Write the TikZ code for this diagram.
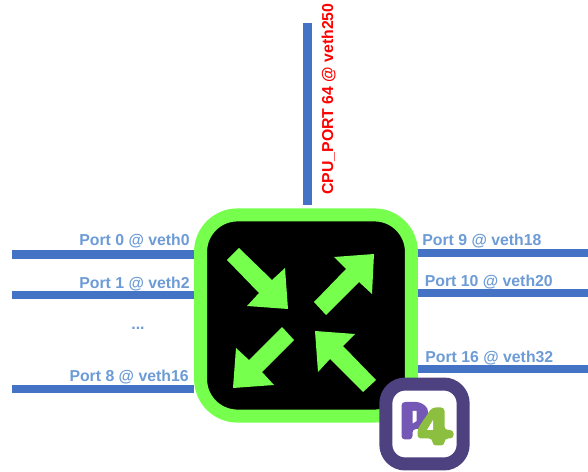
\documentclass[tikz,border=0pt]{standalone}
\usepackage{fontspec}
\setmainfont{Liberation Sans}
\usetikzlibrary{positioning, calc}
\definecolor{wireblue}{HTML}{4472C4}
\definecolor{labelblue}{HTML}{6C9BD6}
\definecolor{switchgreen}{HTML}{76FF4C}
\definecolor{logoframe}{HTML}{4D417F}
\definecolor{logopurple}{HTML}{7558B5}
\definecolor{logogreen}{HTML}{8CBF3F}
\newcommand{\portwire}[2]
{
	\draw[wire] (#1) -- (#1 -| #2)
}
\tikzset{
	wire/.style={draw=wireblue, line width=4.6pt},
	portlabel/.style={font=\bfseries\fontsize{9}{10}\selectfont, text=labelblue, inner sep=0pt},
	cpulabel/.style={font=\bfseries\fontsize{9}{10}\selectfont, text=red, inner sep=0pt, rotate=90},
	switchbox/.style={draw=switchgreen, fill=black, line width=7.4pt, rounded corners=21pt,
		minimum width=120pt, minimum height=114.5pt},
	logobox/.style={draw=logoframe, fill=white, line width=7.4pt, rounded corners=11pt,
		minimum width=44pt, minimum height=45.5pt},
	swarrow/.style={fill=switchgreen}
}

\begin{document}
\begin{tikzpicture}[x=0.02cm, y=-0.02cm]
	\useasboundingbox (0, 0) rectangle (588, 472);

	\coordinate (P0) at (12, 254.5);
	\coordinate (P1) at (12, 295);
	\coordinate (P8) at (12, 389);
	\coordinate (P9) at (588, 253);
	\coordinate (P10) at (588, 293);
	\coordinate (P16) at (588, 369);
	\coordinate (CPU) at (307.5, 23);

	\node[switchbox] at (306, 315.5) (SW){};

	\portwire{P0}{SW.west};
	\portwire{P1}{SW.west};
	\portwire{P8}{SW.west};
	\portwire{P9}{SW.east};
	\portwire{P10}{SW.east};
	\portwire{P16}{SW.east};
	\draw[wire, shorten >=2] (CPU) -- (CPU |- SW.north);

	\node[portlabel, anchor=base east] at (190, 245.5) (L0){Port 0 @ veth0};
	\node[portlabel, anchor=base east] at (190, 288.5) (L1){Port 1 @ veth2};
	\node[portlabel, anchor=base] at (138, 330) (LD){...};
	\node[portlabel, anchor=base east] at (189, 381.5) (L8){Port 8 @ veth16};
	\node[portlabel, anchor=base west] at (422, 245.5) (L9){Port 9 @ veth18};
	\node[portlabel, anchor=base west] at (424.5, 286.5) (L10){Port 10 @ veth20};
	\node[portlabel, anchor=base west] at (425, 362.5) (L16){Port 16 @ veth32};
	\node[cpulabel, anchor=base west] at (333, 195) (LC){CPU\_PORT 64 @ veth250};

	% the four arrows inside the switch
	\fill[swarrow] (239, 248) -- (272, 280) -- (285, 268) -- (288, 309) -- (247, 306) -- (259, 293) -- (227, 260) -- cycle;
	\fill[swarrow] (314, 302) -- (326, 315) -- (359, 282) -- (372, 294) -- (374, 254) -- (334, 257) -- (346, 269) -- cycle;
	\fill[swarrow] (282, 327) -- (294, 340) -- (262, 372) -- (274, 385) -- (233, 388) -- (236, 348) -- (249, 360) -- cycle;
	\fill[swarrow] (376, 380) -- (363, 392) -- (330, 359) -- (318, 372) -- (315, 331) -- (355, 334) -- (343, 346) -- cycle;

	\node[logobox] at (424.5, 424) (LOGO){};

	% P4 mark
	\fill[logopurple, rounded corners=2pt] (401.5, 402) -- (420, 402) -- (428, 408) -- (428, 424) -- (420, 429) -- (412.5, 429) -- (412.5, 439.5) -- (401.5, 439.5) -- cycle;
	\fill[white] (412.5, 411) -- (416.5, 411) -- (416.5, 421) -- (412.5, 423.5) -- cycle;
	\fill[logogreen, rounded corners=2pt] (432, 407.5) -- (444.5, 407.5) -- (444.5, 430) -- (453.5, 430) -- (453.5, 438.5) -- (444.5, 438.5) -- (444.5, 445.5) -- (432.5, 445.5) -- (432.5, 438.5) -- (417.5, 438.5) -- (417.5, 429) -- cycle;
	\fill[white] (433, 420) -- (433, 430) -- (427, 430) -- cycle;
\end{tikzpicture}
\end{document}
